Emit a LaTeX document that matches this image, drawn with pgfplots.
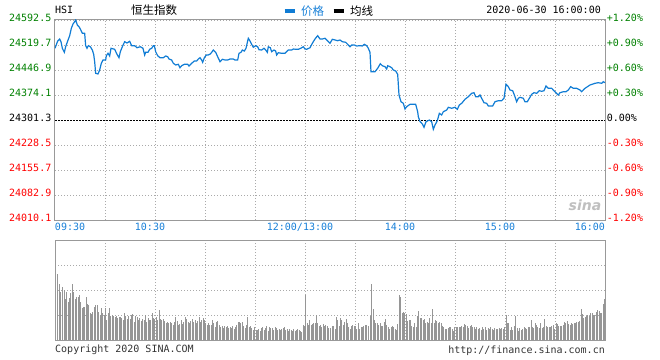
\documentclass[border=0pt]{standalone}
\usepackage{pgfplots}
\usepackage{pgfplotstable}
\pgfplotsset{compat=1.18}
\usepackage{fontspec}
\setmainfont{DejaVu Sans}
\setmonofont{DejaVu Sans Mono}
\newfontfamily\cjk{Noto Sans CJK SC}
\definecolor{upgreen}{RGB}{0,128,0}
\definecolor{downred}{RGB}{255,0,0}
\definecolor{lineblue}{RGB}{16,124,212}
\definecolor{labelblue}{RGB}{24,128,216}
\definecolor{gridgray}{RGB}{170,170,170}
\definecolor{framegray}{RGB}{153,153,153}
\definecolor{volgray}{RGB}{150,150,150}
\newcommand{\mono}{\ttfamily\fontsize{10bp}{12bp}\selectfont}
\newcommand{\cjkfont}{\cjk\fontsize{11.5bp}{13bp}\selectfont}

\pgfplotstableread{
m p
0 24510.1
1.6 24531.3
2.8 24537.2
3.6 24529.3
4.4 24510.1
5.6 24498.4
6.4 24514.7
7.6 24531.3
8.8 24546.8
9.8 24568.3
10.8 24580.9
11.8 24587.5
12.4 24592.5
13.4 24577.9
14.4 24573.0
15.2 24566.3
16.4 24553.8
17.8 24553.8
18.4 24517.7
19.2 24510.1
20.0 24517.7
21.2 24514.7
22.4 24505.1
23.2 24492.6
23.8 24471.1
24.4 24437.3
25.8 24435.3
26.8 24446.9
27.8 24466.4
28.8 24476.0
30.4 24476.0
30.8 24488.5
31.8 24495.5
32.8 24487.7
33.6 24510.1
35.8 24507.2
37.2 24492.6
38.4 24482.7
39.2 24500.2
40.4 24514.7
41.8 24529.3
43.2 24525.5
44.8 24530.5
46.0 24517.7
47.8 24517.7
49.2 24511.8
51.2 24514.7
52.8 24510.1
53.8 24490.6
54.4 24498.4
55.8 24498.4
56.8 24507.2
58.0 24510.1
59.0 24517.7
59.6 24517.7
60.4 24500.2
61.6 24488.5
63.0 24482.7
65.0 24482.7
66.4 24487.7
67.6 24485.6
68.4 24478.9
70.0 24476.0
71.0 24466.4
72.4 24461.5
74.0 24463.5
75.0 24453.6
76.0 24459.4
77.6 24463.5
79.6 24463.5
80.4 24458.5
82.0 24466.4
83.6 24473.1
85.0 24473.1
86.0 24478.9
87.0 24482.7
88.0 24476.0
88.6 24469.3
89.6 24482.7
90.8 24490.6
92.0 24490.6
93.2 24493.5
94.0 24498.4
95.0 24505.1
96.4 24498.4
97.6 24485.6
99.0 24471.1
100.4 24478.1
102.0 24476.0
103.6 24476.0
105.0 24478.9
107.0 24478.9
108.0 24476.0
109.6 24476.0
110.4 24495.5
111.6 24498.4
112.4 24505.1
113.6 24502.2
114.6 24510.1
115.6 24531.3
116.0 24539.2
117.0 24531.3
118.0 24521.7
119.0 24513.0
120.4 24517.7
121.6 24514.7
122.4 24506.0
124.0 24505.1
125.4 24510.1
126.4 24505.1
127.4 24498.4
128.0 24514.7
129.2 24511.8
130.0 24500.2
131.4 24505.1
132.4 24502.2
133.0 24490.6
134.0 24497.3
136.0 24495.5
138.0 24495.5
140.0 24505.1
142.0 24505.1
143.0 24508.0
144.6 24507.2
146.0 24507.2
147.4 24510.1
149.0 24514.7
150.0 24508.0
151.0 24507.2
153.0 24511.8
154.4 24524.7
156.0 24537.2
157.6 24546.8
159.0 24537.2
160.4 24537.2
162.0 24539.2
163.6 24531.3
165.0 24524.7
166.4 24536.3
168.0 24534.3
169.6 24532.2
171.0 24534.3
172.4 24529.3
174.4 24527.6
175.6 24521.7
177.0 24514.7
178.0 24519.7
179.6 24519.7
181.0 24516.8
183.0 24517.7
184.4 24516.8
185.6 24521.7
187.0 24517.7
188.0 24510.1
189.0 24498.4
189.6 24441.9
192.0 24441.9
193.6 24451.9
195.2 24465.2
196.4 24459.4
198.0 24456.5
199.0 24449.8
199.6 24459.4
201.0 24456.5
202.0 24453.6
203.0 24446.9
204.4 24444.0
205.6 24434.4
206.4 24374.1
207.6 24354.6
209.0 24349.9
210.0 24333.3
211.0 24340.0
213.0 24347.0
215.0 24347.0
216.4 24347.0
217.6 24325.5
218.0 24310.9
219.0 24296.9
220.4 24289.7
221.4 24280.0
222.6 24296.3
224.6 24301.3
226.0 24296.3
227.0 24274.2
228.0 24286.7
229.4 24299.3
230.6 24320.8
232.0 24315.9
233.0 24325.5
235.0 24330.4
236.0 24338.3
238.0 24335.4
240.0 24338.3
241.4 24332.5
242.6 24345.0
244.0 24349.9
246.0 24361.6
248.0 24369.2
250.0 24379.1
251.4 24380.8
252.4 24369.2
254.0 24369.2
255.0 24374.1
256.0 24364.5
257.4 24351.7
259.0 24349.9
260.0 24342.1
262.6 24342.1
264.0 24354.6
266.0 24357.5
268.0 24357.5
269.4 24364.5
270.6 24405.3
272.0 24398.3
273.0 24388.7
274.6 24386.6
276.0 24369.2
277.0 24354.6
278.0 24364.5
279.0 24367.4
281.0 24364.5
282.0 24354.6
283.4 24354.6
284.6 24364.5
286.0 24376.1
287.4 24380.8
289.0 24379.1
290.6 24386.6
292.0 24384.9
293.4 24386.6
294.6 24400.3
296.0 24393.6
298.0 24393.6
300.0 24383.7
302.0 24374.1
303.0 24380.8
305.0 24383.7
306.6 24383.7
308.0 24388.7
309.4 24398.3
311.0 24393.6
313.0 24393.6
315.0 24388.7
316.0 24383.7
318.0 24393.6
321.0 24403.2
324.0 24408.2
326.0 24409.9
328.0 24408.2
329.0 24412.8
330.0 24409.9
}\pricetable

\pgfplotstableread{
x v
172 66
178 56
181 48
186 53
192 50
196 41
200 48
204 38
208 42
212 47
217 56
221 48
225 41
230 43
234 43
238 45
242 38
246 32
250 33
254 33
258 43
262 36
266 35
270 27
274 26
278 28
282 33
287 35
291 35
295 28
300 25
303 32
308 27
312 25
316 32
320 20
324 27
328 32
332 24
336 25
340 24
345 23
349 24
353 22
357 23
361 23
365 22
370 20
373 27
377 24
382 21
386 24
390 21
394 25
398 26
402 18
407 24
411 23
415 20
419 22
423 19
427 21
432 20
436 25
440 18
444 22
448 20
452 20
456 27
461 22
464 21
468 23
473 20
477 30
481 21
485 20
489 21
494 19
498 17
502 18
506 17
510 18
515 17
519 15
523 18
527 23
531 19
535 15
539 16
543 20
547 16
551 18
556 23
560 21
564 18
568 17
572 19
576 21
580 18
585 20
589 17
593 19
597 23
601 18
605 20
609 22
613 20
617 17
621 15
625 17
629 15
633 15
637 20
641 17
645 13
649 18
653 19
657 15
662 13
666 14
670 12
674 14
678 13
682 14
686 12
690 13
694 12
698 14
702 11
706 13
710 15
714 18
718 18
722 17
726 18
730 14
735 12
739 15
743 23
747 13
751 14
755 12
759 10
763 13
768 10
772 10
776 11
780 9
784 12
788 13
792 10
796 12
800 14
804 9
808 13
812 12
817 12
821 10
825 13
829 12
833 10
837 11
841 10
845 11
849 12
853 13
857 10
861 11
865 9
869 11
873 10
877 9
881 11
885 9
889 10
893 11
897 10
901 9
905 8
909 15
913 14
917 45
921 17
925 15
929 20
933 15
937 16
941 17
945 17
949 25
953 17
957 14
961 15
965 13
969 16
973 14
977 15
981 14
985 12
992 12
996 14
1000 14
1005 11
1009 23
1013 20
1017 14
1021 22
1025 20
1030 15
1034 18
1038 21
1042 17
1046 13
1050 11
1054 14
1058 15
1062 14
1066 14
1070 11
1074 17
1079 11
1083 13
1087 13
1091 14
1096 15
1100 15
1105 14
1110 24
1114 56
1119 31
1123 20
1127 17
1131 17
1135 15
1140 17
1144 14
1148 14
1152 18
1156 21
1160 15
1165 13
1169 11
1173 13
1177 14
1181 13
1185 11
1189 10
1193 16
1197 45
1202 43
1206 27
1210 28
1214 27
1218 26
1223 19
1227 20
1231 20
1235 14
1239 13
1244 17
1248 13
1252 24
1256 29
1260 22
1265 22
1269 20
1273 21
1277 17
1281 18
1285 17
1289 22
1293 17
1298 31
1302 17
1306 20
1310 19
1314 17
1319 18
1323 17
1327 14
1331 13
1335 11
1339 11
1344 12
1348 13
1352 13
1356 11
1360 9
1364 13
1368 13
1372 13
1377 13
1381 13
1385 14
1389 13
1393 16
1397 15
1401 14
1405 12
1410 14
1414 15
1418 13
1422 13
1426 11
1430 13
1435 11
1439 12
1443 10
1447 13
1451 11
1455 13
1459 10
1464 12
1468 11
1472 13
1476 11
1480 10
1484 12
1489 11
1493 11
1497 12
1501 11
1505 12
1509 11
1514 13
1518 25
1522 17
1526 17
1530 10
1534 13
1538 10
1543 14
1547 24
1551 12
1555 9
1559 12
1563 10
1568 11
1572 13
1576 12
1580 11
1584 13
1588 13
1593 20
1597 13
1601 12
1605 17
1609 15
1613 13
1617 12
1622 17
1626 12
1630 13
1634 21
1638 14
1642 13
1647 13
1651 13
1655 14
1659 15
1664 11
1668 17
1672 16
1676 14
1680 14
1684 14
1689 15
1693 18
1697 17
1701 19
1705 16
1710 15
1714 17
1718 16
1722 17
1726 17
1730 18
1734 18
1739 19
1743 31
1747 26
1751 22
1755 23
1759 24
1763 25
1768 24
1772 27
1776 27
1780 25
1784 25
1788 28
1792 30
1797 29
1801 27
1805 27
1809 36
1812.5 41
}\voltable

\begin{document}
\begin{tikzpicture}
\useasboundingbox (0,0) rectangle (660bp,-360bp);

% main price panel
\begin{axis}[
  at={(55bp,-20bp)}, anchor=north west,
  scale only axis, width=550bp, height=200bp,
  xmin=0, xmax=330, ymin=24010.1, ymax=24592.5,
  scaled x ticks=false, scaled y ticks=false,
  axis line style={framegray, line width=1bp},
  major tick length=0pt, minor tick length=0pt,
  xtick={0,57,147,207,267,330},
  xticklabels={\makebox[0pt][l]{09:30},10:30,12:00/13:00,14:00,15:00,\makebox[0pt][r]{16:00}},
  minor xtick={30,60,90,120,150,180,210,240,270,300},
  xminorgrids=true, xmajorgrids=false,
  minor grid style={gridgray, dash pattern=on 1bp off 2bp, line width=0.8bp},
  ytick={24010.1,24082.9,24155.7,24228.5,24301.3,24374.1,24446.9,24519.7,24592.5},
  yticklabels={\textcolor{downred}{24010.1},\textcolor{downred}{24082.9},\textcolor{downred}{24155.7},\textcolor{downred}{24228.5},\textcolor{black}{24301.3},\textcolor{upgreen}{24374.1},\textcolor{upgreen}{24446.9},\textcolor{upgreen}{24519.7},\textcolor{upgreen}{24592.5}},
  ymajorgrids=true,
  major grid style={gridgray, dash pattern=on 1bp off 2bp, line width=0.8bp},
  xticklabel style={font=\mono, text=labelblue, anchor=base, inner sep=0pt, yshift=-10.7bp},
  yticklabel style={font=\mono, anchor=base east, inner sep=0pt, xshift=-3.5bp, yshift=-1bp},
  legend style={at={(0.4145,1.045)}, anchor=west, draw=none, fill=none, inner sep=0pt,
    legend columns=2, font=\cjkfont,
    /tikz/every odd column/.style={column sep=5bp},
    /tikz/every even column/.style={column sep=8bp},
    nodes={inner sep=0pt}},
  legend image code/.code={\draw[#1, line width=3bp] (0bp,0bp) -- (10bp,0bp);},
]
\addplot[black, dash pattern=on 2bp off 1bp, line width=1bp, forget plot] coordinates {(0,24301.3) (330,24301.3)};
\addplot[lineblue, line width=1.2bp, mark=none] table[x=m, y=p]{\pricetable};
\addlegendentry{\textcolor{labelblue}{价格}}
\addlegendimage{black, line width=3bp}
\addlegendentry{均线}
\end{axis}

% right percentage axis
\begin{axis}[
  at={(55bp,-20bp)}, anchor=north west,
  scale only axis, width=550bp, height=200bp,
  xmin=0, xmax=330, ymin=-1.2, ymax=1.2,
  scaled y ticks=false,
  axis x line=none, axis y line*=right,
  y axis line style={draw=none},
  major tick length=0pt,
  ytick={-1.2,-0.9,-0.6,-0.3,0,0.3,0.6,0.9,1.2},
  yticklabels={\textcolor{downred}{-1.20\%},\textcolor{downred}{-0.90\%},\textcolor{downred}{-0.60\%},\textcolor{downred}{-0.30\%},\textcolor{black}{0.00\%},\textcolor{upgreen}{+0.30\%},\textcolor{upgreen}{+0.60\%},\textcolor{upgreen}{+0.90\%},\textcolor{upgreen}{+1.20\%}},
  yticklabel style={font=\mono, anchor=base west, inner sep=0pt, xshift=1.7bp, yshift=-1bp},
]
\addplot[draw=none] coordinates {(0,0)};
\end{axis}

% volume panel
\begin{axis}[
  at={(55bp,-240bp)}, anchor=north west,
  scale only axis, width=550bp, height=100bp,
  xmin=165, xmax=1815, ymin=0, ymax=100,
  scaled x ticks=false, scaled y ticks=false,
  axis line style={framegray, line width=1bp},
  major tick length=0pt,
  xtick={315,465,615,765,915,1065,1215,1365,1515,1665},
  ytick={25,50,75},
  xticklabels={}, yticklabels={},
  xmajorgrids=true, ymajorgrids=true,
  major grid style={gridgray, dash pattern=on 1bp off 2bp, line width=0.8bp},
]
\addplot[ycomb, volgray, line width=0.9bp, mark=none] table[x=x, y=v]{\voltable};
\end{axis}

% header and footer texts
\node[anchor=base west, font=\mono, inner sep=0pt] at (55bp,-13.3bp) {HSI};
\node[anchor=base west, font=\cjkfont, inner sep=0pt] at (131bp,-14bp) {恒生指数};
\node[anchor=base east, font=\mono, inner sep=0pt] at (601bp,-13.3bp) {2020-06-30 16:00:00};
\node[anchor=base west, font=\mono, text=black!80, inner sep=0pt] at (55bp,-352.7bp) {Copyright 2020 SINA.COM};
\node[anchor=base east, font=\mono, text=black!80, inner sep=0pt] at (605bp,-353bp) {http://finance.sina.com.cn};
\node[font=\bfseries\itshape\fontsize{14bp}{14bp}\selectfont, text=gray!50, inner sep=0pt] at (585bp,-205bp) {sina};
\end{tikzpicture}
\end{document}
